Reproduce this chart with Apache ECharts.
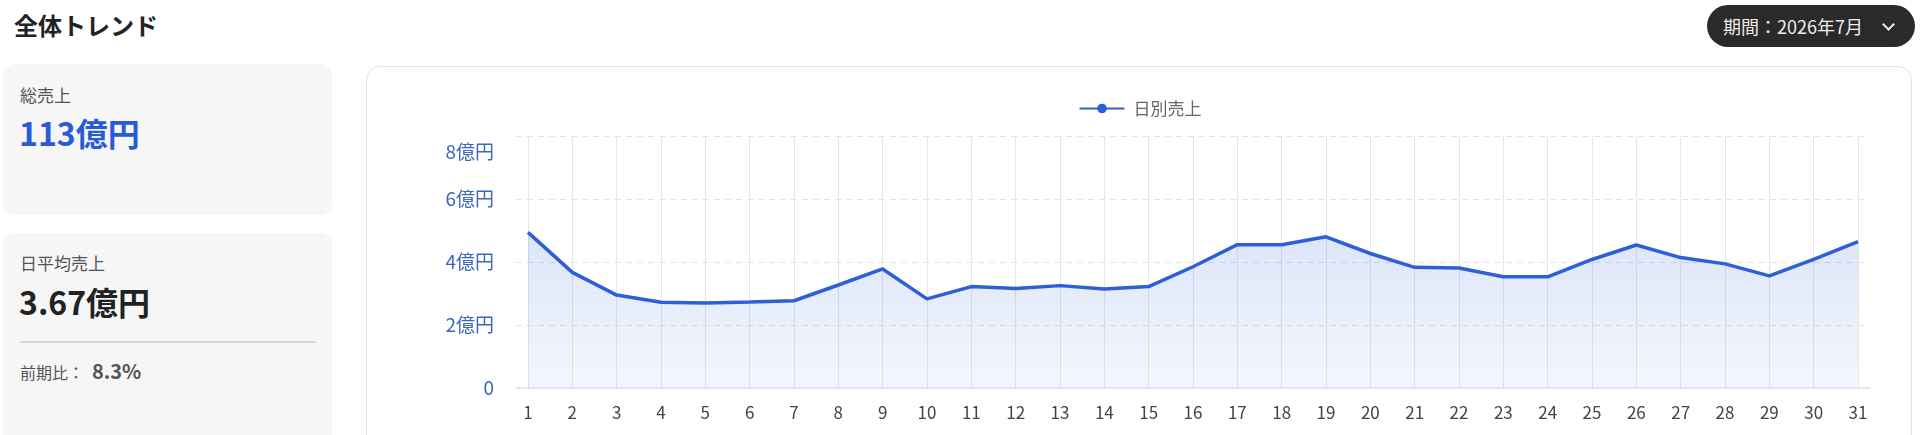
<!DOCTYPE html>
<html lang="ja">
<head>
<meta charset="utf-8">
<script src="https://cdn.jsdelivr.net/npm/echarts@6/dist/echarts.min.js"></script>
<style>
  html, body { margin:0; padding:0; }
  body { width:1920px; height:435px; overflow:hidden; background:#fff; position:relative;
         font-family:"Noto Sans CJK JP","Noto Sans",sans-serif; color:#222; }
  .abs { position:absolute; white-space:nowrap; }
  .title { left:14px; top:7px; font-size:24px; line-height:36px; font-weight:700; color:#222; }
  .card { position:absolute; left:3px; width:329px; background:#f6f6f7; border-radius:12px; }
  .lbl { font-size:17px; line-height:22px; color:#555; }
  .big { font-size:32px; line-height:40px; font-weight:700; }
  .dd { left:1707px; top:5px; width:208px; height:42px; background:#2a2a2a; border-radius:21px; }
  .ddtext { left:1723px; top:12px; font-size:18px; line-height:28px; color:#eee; }
  .chev { left:1884px; top:20px; width:7px; height:7px; border-right:2px solid #eee; border-bottom:2px solid #eee; transform:rotate(45deg); }
  .chartcard { left:366px; top:66px; width:1546px; height:400px; border:1.5px solid #e4e4e4; border-radius:14px; background:#fff; box-sizing:border-box; }
  #chart { position:absolute; left:366px; top:66px; width:1548px; height:369px; }
</style>
</head>
<body>
<div class="abs title">全体トレンド</div>

<div class="card" style="top:64px;height:151px;"></div>
<div class="abs lbl" style="left:20px;top:84px;">総売上</div>
<div class="abs big" style="left:19px;top:112px;color:#2a5bd7;">113億円</div>

<div class="card" style="top:233px;height:230px;"></div>
<div class="abs lbl" style="left:20px;top:252px;">日平均売上</div>
<div class="abs big" style="left:19px;top:281px;color:#222;">3.67億円</div>
<div class="abs" style="left:20px;top:341px;width:296px;height:1.5px;background:#d9d9d9;"></div>
<div class="abs" style="left:20px;top:361px;font-size:16px;line-height:22px;color:#555;">前期比：</div>
<div class="abs" style="left:92px;top:358px;font-size:20px;line-height:26px;font-weight:700;color:#555;">8.3%</div>

<div class="abs dd"></div>
<div class="abs ddtext">期間：2026年7月</div>
<div class="abs chev"></div>

<div class="abs chartcard"></div>
<div id="chart"></div>

<script>
const seriesName = '日別売上';
const days = ['1','2','3','4','5','6','7','8','9','10','11','12','13','14','15','16','17','18','19','20','21','22','23','24','25','26','27','28','29','30','31'];
const dailySales = [4.94,3.67,2.95,2.72,2.70,2.73,2.77,3.27,3.78,2.83,3.22,3.16,3.25,3.14,3.22,3.85,4.55,4.55,4.80,4.27,3.83,3.81,3.53,3.53,4.08,4.54,4.14,3.94,3.56,4.08,4.65];
const yTicks = [0,2,4,6,8];
const yUnit = '億円';

const yMin = yTicks[0], yMax = yTicks[yTicks.length-1], yStep = yTicks[1]-yTicks[0];
const lineColor = '#2c5fd8';

const chart = echarts.init(document.getElementById('chart'), null, {renderer:'canvas'});
chart.setOption({
  animation:false,
  legend:{
    top:29, left:'center', itemWidth:45, itemHeight:12,
    textStyle:{ color:'#666', fontSize:17, padding:[0,0,0,4], fontFamily:'Noto Sans CJK JP' },
    data:[seriesName]
  },
  grid:[
    { left:150, right:44, top:70, bottom:47 },
    { left:162, right:56, top:70, bottom:47 }
  ],
  xAxis:[
    { gridIndex:0, type:'value', min:0, max:1, axisLine:{show:true, lineStyle:{color:'#dfe3ea', width:1.5}},
      axisTick:{show:false}, axisLabel:{show:false}, splitLine:{show:false} },
    { gridIndex:1, type:'category', data:days, boundaryGap:false,
      axisLine:{show:false}, axisTick:{show:false},
      axisLabel:{ interval:0, margin:16, color:'#444', fontSize:17, fontFamily:'Noto Sans CJK JP' },
      splitLine:{ show:true, interval:0, lineStyle:{ color:'#e6e6e6', width:1 } } }
  ],
  yAxis:[
    { gridIndex:0, type:'value', min:yMin, max:yMax, interval:yStep,
      axisLine:{show:false}, axisTick:{show:false},
      axisLabel:{ margin:22, color:'#3d66bf', fontSize:19, fontFamily:'Noto Sans CJK JP',
        formatter: v => v === 0 ? '0' : (v === yMax ? '{top|' + v + yUnit + '}' : v + yUnit),
        rich:{ top:{ padding:[32,0,0,0], color:'#3d66bf', fontSize:19, fontFamily:'Noto Sans CJK JP' } } },
      splitLine:{ show:true, lineStyle:{ color:'#e3e3e3', type:[6,5], width:1.2 } } },
    { gridIndex:1, type:'value', min:yMin, max:yMax, interval:yStep, show:false }
  ],
  series:[{
    name:seriesName, type:'line', xAxisIndex:1, yAxisIndex:1, data:dailySales,
    symbol:'circle', symbolSize:8, showSymbol:false,
    itemStyle:{ color:lineColor },
    lineStyle:{ color:lineColor, width:3.5 },
    areaStyle:{ color: new echarts.graphic.LinearGradient(0,0,0,1,[
      {offset:0, color:'rgba(44,95,216,0.24)'},
      {offset:1, color:'rgba(44,95,216,0.07)'}
    ]) }
  }]
});
</script>
</body>
</html>
